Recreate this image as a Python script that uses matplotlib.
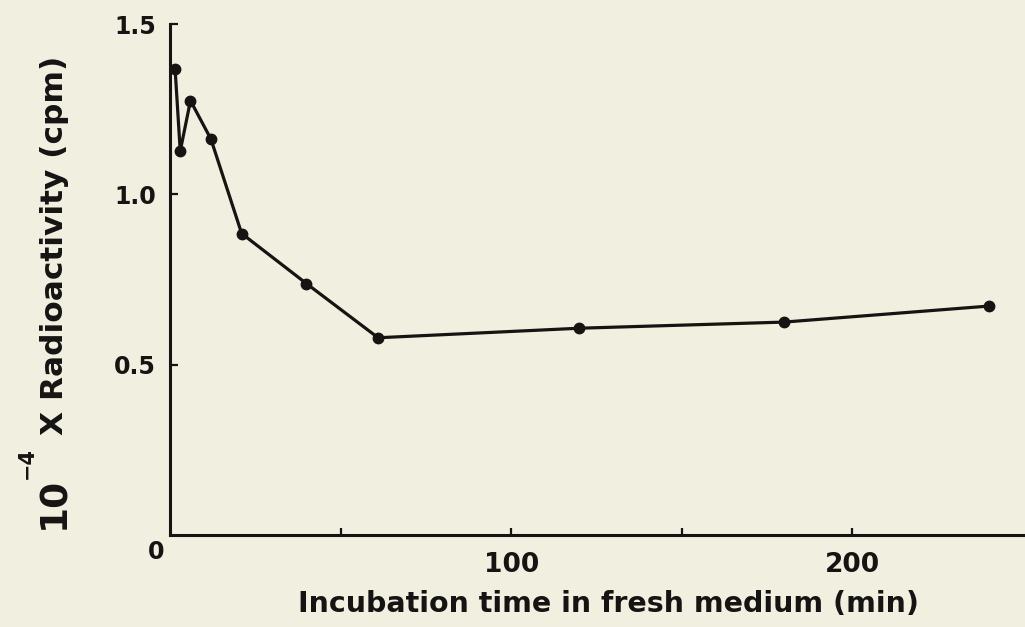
import matplotlib
matplotlib.use("Agg")
import matplotlib.pyplot as plt

# incubation time (min) and radioactivity (x 10^-4 cpm)
time_min = [1.5, 3, 6, 12, 21, 40, 61, 120, 180, 240]
activity = [1.367, 1.127, 1.275, 1.162, 0.885, 0.738, 0.579, 0.607, 0.625, 0.672]

x_ticks = [50, 100, 150, 200]
x_tick_labels = ["", "100", "", "200"]
y_ticks = [0.5, 1.0, 1.5]
y_tick_labels = ["0.5", "1.0", "1.5"]

PAPER = "#f1efe0"
INK = "#151412"
FONT = ["DejaVu Sans"]

plt.rcParams["font.family"] = FONT
plt.rcParams["font.weight"] = "bold"

W, H = 1025, 627
fig = plt.figure(figsize=(W / 100, H / 100), dpi=100, facecolor=PAPER)
ax = fig.add_axes([170 / W, 1 - 535 / H, (1023 - 170) / W, (535 - 24) / H])
ax.set_facecolor(PAPER)

ax.plot(time_min, activity, "-o", color=INK, lw=2.3, ms=7.5,
        markeredgecolor=INK, clip_on=False, zorder=3)

ax.set_xlim(0, 250)
ax.set_ylim(0, 1.5)

for side in ("top", "right"):
    ax.spines[side].set_visible(False)
for side in ("left", "bottom"):
    ax.spines[side].set_linewidth(2.2)
    ax.spines[side].set_color(INK)

ax.set_xticks(x_ticks)
ax.set_xticklabels(x_tick_labels)
ax.set_yticks(y_ticks)
ax.set_yticklabels(y_tick_labels)
ax.tick_params(axis="x", direction="in", length=5, width=1.6, color=INK,
               labelsize=19, pad=12, labelcolor=INK)
ax.tick_params(axis="y", direction="in", length=6, width=1.6, color=INK,
               labelsize=17, pad=10, labelcolor=INK)

# origin label sits below and left of the corner
ax.annotate("0", xy=(0, 0), xytext=(-10, -12), textcoords="offset points",
            ha="center", va="center", fontsize=17, fontweight="bold", color=INK)

ax.set_xlabel("Incubation time in fresh medium (min)", fontsize=20.5,
              fontweight="bold", color=INK)
ax.xaxis.set_label_coords((608 - 170) / 853, -69 / 511)
ax.xaxis.label.set_va("center")

# y label built from pieces so the "10" can be set larger
fig.text(54 / W, 1 - 503 / H, "10", rotation=90, ha="center", va="center",
         fontsize=27, fontweight="bold", color=INK)
fig.text(27 / W, 1 - 463 / H, "\u22124", rotation=90, ha="center", va="center",
         fontsize=15, fontweight="bold", color=INK)
fig.text(55 / W, 1 - 245 / H, "X Radioactivity (cpm)", rotation=90,
         ha="center", va="center", fontsize=22.5, fontweight="bold", color=INK)

fig.savefig("out.png", dpi=100, facecolor=PAPER)
